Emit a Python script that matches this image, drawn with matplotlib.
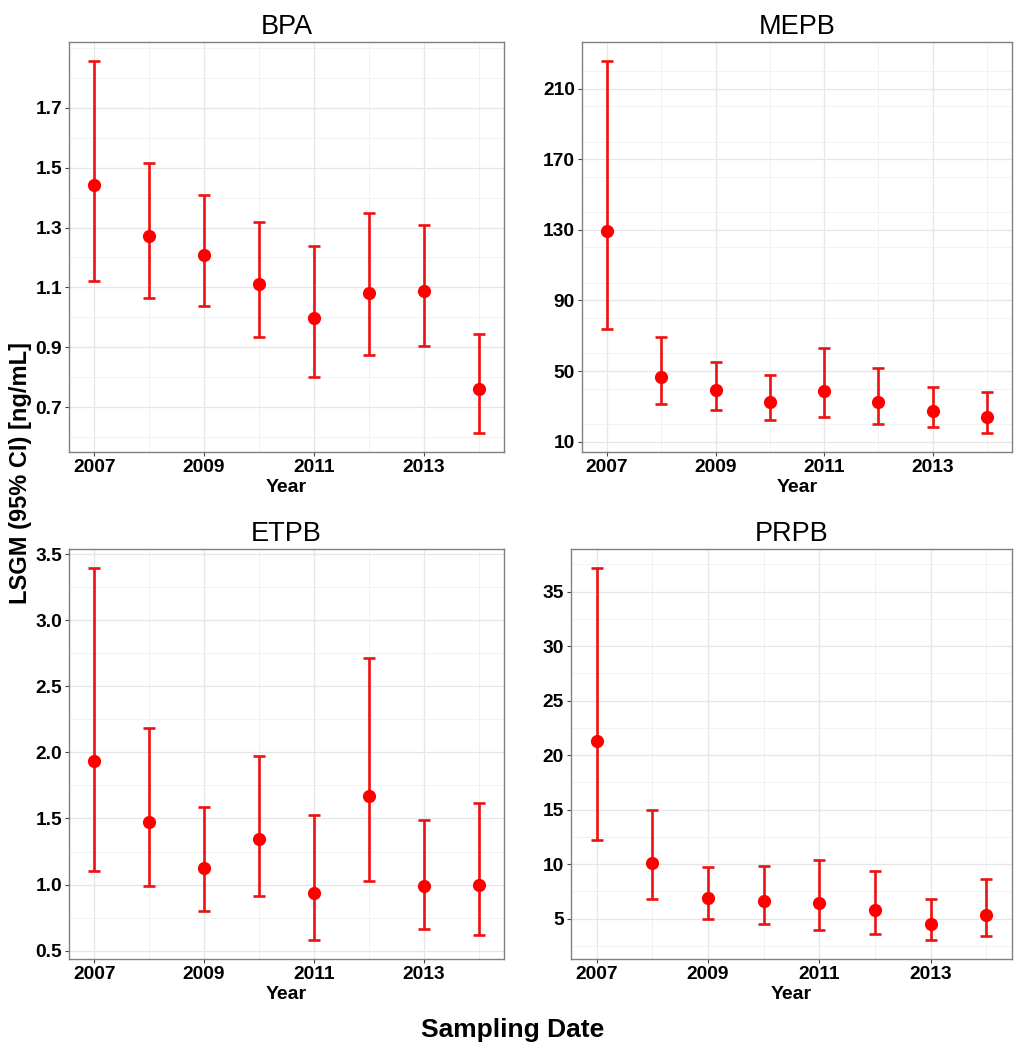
import matplotlib
matplotlib.use("Agg")
import matplotlib.pyplot as plt
from matplotlib.ticker import MultipleLocator, FixedLocator

plt.rcParams['font.family'] = ['Liberation Sans', 'DejaVu Sans']

years = [2007, 2008, 2009, 2010, 2011, 2012, 2013, 2014]

bpa_est = [1.443, 1.271, 1.207, 1.110, 0.997, 1.083, 1.088, 0.760]
bpa_low = [1.122, 1.065, 1.037, 0.933, 0.801, 0.873, 0.906, 0.613]
bpa_high = [1.857, 1.517, 1.409, 1.320, 1.238, 1.347, 1.307, 0.943]

mepb_est = [129.1, 46.6, 39.5, 32.5, 38.9, 32.2, 27.6, 23.7]
mepb_low = [73.7, 31.6, 28.2, 22.2, 24.1, 19.8, 18.4, 14.7]
mepb_high = [225.8, 69.5, 55.4, 47.7, 63.0, 51.7, 41.2, 38.2]

etpb_est = [1.933, 1.471, 1.125, 1.341, 0.937, 1.670, 0.989, 1.000]
etpb_low = [1.102, 0.992, 0.801, 0.912, 0.578, 1.030, 0.661, 0.620]
etpb_high = [3.397, 2.187, 1.587, 1.976, 1.524, 2.711, 1.491, 1.614]

prpb_est = [21.31, 10.14, 6.94, 6.67, 6.42, 5.78, 4.51, 5.39]
prpb_low = [12.21, 6.85, 4.96, 4.54, 3.99, 3.56, 3.02, 3.38]
prpb_high = [37.19, 15.00, 9.71, 9.80, 10.38, 9.35, 6.82, 8.68]

x_ticks = [2007, 2009, 2011, 2013]
x_minor = [2008, 2010, 2012, 2014]

panels = [
    ("BPA", bpa_est, bpa_low, bpa_high, [0.7, 0.9, 1.1, 1.3, 1.5, 1.7], ["0.7", "0.9", "1.1", "1.3", "1.5", "1.7"], 0.1,
     [69, 42, 504, 452]),
    ("MEPB", mepb_est, mepb_low, mepb_high, [10, 50, 90, 130, 170, 210], ["10", "50", "90", "130", "170", "210"], 20,
     [582, 42, 1012, 452]),
    ("ETPB", etpb_est, etpb_low, etpb_high, [0.5, 1.0, 1.5, 2.0, 2.5, 3.0, 3.5], ["0.5", "1.0", "1.5", "2.0", "2.5", "3.0", "3.5"], 0.25,
     [69, 549, 504, 959]),
    ("PRPB", prpb_est, prpb_low, prpb_high, [5, 10, 15, 20, 25, 30, 35], ["5", "10", "15", "20", "25", "30", "35"], 2.5,
     [571, 549, 1012, 959]),
]

W, H = 1022, 1050
fig = plt.figure(figsize=(W / 100, H / 100), dpi=100)
fig.patch.set_facecolor("white")

for title, est, low, high, yt, ytl, minor_step, (l, t, r, b) in panels:
    ax = fig.add_axes([l / W, 1 - b / H, (r - l) / W, (b - t) / H])
    yerr = [[e - lo for e, lo in zip(est, low)], [hi - e for e, hi in zip(est, high)]]
    ax.errorbar(years, est, yerr=yerr, fmt='none', ecolor='#EE1111', elinewidth=1.9,
                capsize=4.0, capthick=1.9, zorder=3)
    ax.plot(years, est, 'o', color='#FF0000', markersize=9.5, markeredgewidth=0, zorder=4)
    lo_all, hi_all = min(low), max(high)
    pad = 0.05 * (hi_all - lo_all)
    ax.set_ylim(lo_all - pad, hi_all + pad)
    ax.set_xlim(2006.54, 2014.46)
    ax.set_xticks(x_ticks)
    ax.set_xticklabels([str(v) for v in x_ticks], fontsize=13.8, fontweight='bold')
    ax.xaxis.set_minor_locator(FixedLocator(x_minor))
    ax.set_yticks(yt)
    ax.set_yticklabels(ytl, fontsize=13.8, fontweight='bold')
    ax.yaxis.set_minor_locator(MultipleLocator(minor_step))
    ax.grid(which='major', color='#E6E6E6', linewidth=0.9, zorder=0)
    ax.grid(which='minor', color='#F0F0F0', linewidth=0.6, zorder=0)
    ax.set_axisbelow(True)
    ax.tick_params(which='major', length=3, width=0.8, color='#444444', pad=2, labelcolor='black')
    ax.tick_params(which='minor', length=0)
    for s in ax.spines.values():
        s.set_color('#808080')
        s.set_linewidth(1.0)
    ax.set_title(title, fontsize=19.5, pad=6)
    ax.set_xlabel("Year", fontsize=14, fontweight='bold', labelpad=2)

fig.text(513 / W, 1 - 1030 / H, "Sampling Date", fontsize=19, fontweight='bold', ha='center', va='center')
fig.text(21 / W, 1 - 473 / H, "LSGM (95% CI) [ng/mL]", fontsize=17, fontweight='bold',
         ha='center', va='center', rotation=90)

fig.savefig("out.png", dpi=100)
